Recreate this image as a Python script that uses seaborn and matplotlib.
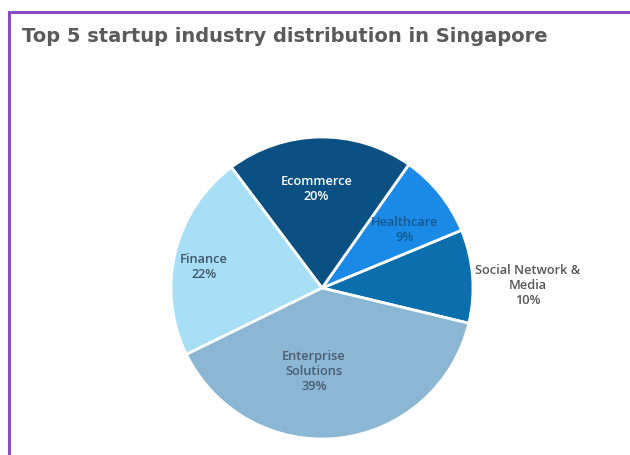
import matplotlib
matplotlib.use("Agg")
import matplotlib.pyplot as plt
import numpy as np
import seaborn as sns

# Slices in counter-clockwise drawing order
industries = ["Social Network &\nMedia", "Healthcare", "Ecommerce", "Finance", "Enterprise\nSolutions"]
shares = [10, 9, 20, 22, 39]
slice_colors = ["#0b6fae", "#1b8ae6", "#0b5083", "#a7dff7", "#8bb7d4"]
label_colors = ["#555555", "#14588f", "#ffffff", "#3e5663", "#4a5c6e"]
# label placement: fraction across the wedge's angle, radial distance
label_frac = [0.405, 0.40, 0.53, 0.54, 0.415]
label_dist = [1.36, 0.67, 0.66, 0.795, 0.55]

sns.set_theme(style="white")
plt.rcParams["font.family"] = ["Open Sans", "DejaVu Sans"]

W, H = 630, 456
fig = plt.figure(figsize=(W / 100, H / 100), dpi=100)
fig.patch.set_facecolor("white")

# Pie axes: center (322, 289) px from top-left, radius 151 px
cx, cy, r = 322, 289, 151
ax = fig.add_axes([(cx - r) / W, (H - cy - r) / H, 2 * r / W, 2 * r / H])

palette = sns.color_palette(slice_colors)
wedges, _ = ax.pie(
    shares,
    colors=palette,
    startangle=-13.5,
    counterclock=True,
    wedgeprops=dict(edgecolor="white", linewidth=2),
)
ax.set_xlim(-1, 1)
ax.set_ylim(-1, 1)
ax.set_aspect("equal")
ax.axis("off")

for w, name, val, col, f, d in zip(wedges, industries, shares, label_colors,
                                    label_frac, label_dist):
    ang = np.deg2rad(w.theta1 + f * (w.theta2 - w.theta1))
    ax.text(d * np.cos(ang), d * np.sin(ang), f"{name}\n{val}%",
            ha="center", va="center", fontsize=9.2, color=col,
            fontweight="semibold", linespacing=1.2)

# Title
fig.text(22 / W, 1 - 37 / H, "Top 5 startup industry distribution in Singapore",
         ha="left", va="center", fontsize=14.0, fontweight="bold", color="#5a5a5a",
         family=["DejaVu Sans"])

# Purple frame along the top and left edges
frame_x = [9 / W, 9 / W, 1.01]
frame_y = [-0.01, 1 - 13 / H, 1 - 13 / H]
fig.add_artist(plt.Line2D(frame_x, frame_y, transform=fig.transFigure,
                          color="#8a4cc4", linewidth=2.2, solid_joinstyle="miter"))

fig.savefig("out.png", dpi=100)
